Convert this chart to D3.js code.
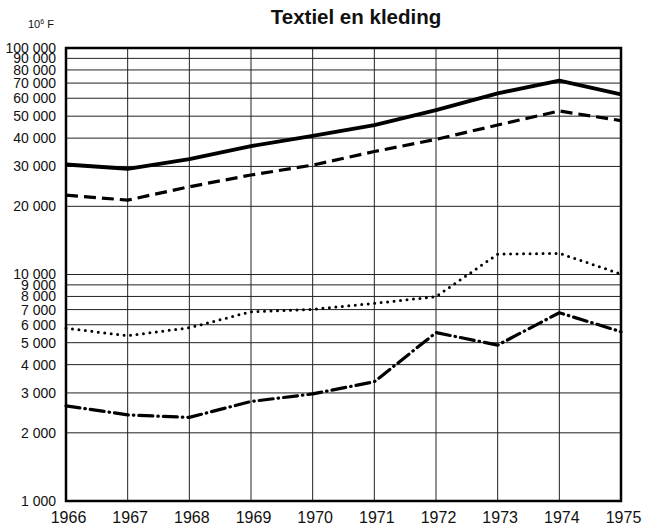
<!DOCTYPE html>
<html>
<head>
<meta charset="utf-8">
<script src="https://d3js.org/d3.v7.min.js"></script>
<style>
  body { margin: 0; background: #fff; }
  text { font-family: "Liberation Sans", Arial, sans-serif; fill: #111; }
</style>
</head>
<body>
<div id="chart"></div>
<script>
// years on the x axis
const years = [1966, 1967, 1968, 1969, 1970, 1971, 1972, 1973, 1974, 1975];

// values in 10^6 F
const solidSeries   = [30600, 29300, 32300, 36900, 40900, 45700, 53200, 63100, 71700, 62400];
const dashedSeries  = [22400, 21300, 24400, 27500, 30400, 34900, 39500, 45700, 52700, 47800];
const dottedSeries  = [5790, 5370, 5820, 6850, 7020, 7460, 7980, 12300, 12400, 10050];
const dashDotSeries = [2630, 2400, 2340, 2750, 2970, 3360, 5540, 4880, 6780, 5590];

const yTicks = [1000, 2000, 3000, 4000, 5000, 6000, 7000, 8000, 9000,
                10000, 20000, 30000, 40000, 50000, 60000, 70000, 80000, 90000, 100000];

const width = 657, height = 529;
const plotLeft = 66, plotRight = 621, plotTop = 48, plotBottom = 501;

const svg = d3.select("#chart").append("svg")
    .attr("width", width)
    .attr("height", height);

const x = d3.scaleLinear().domain([1966, 1975]).range([plotLeft, plotRight]);
const y = d3.scaleLog().domain([1000, 100000]).range([plotBottom, plotTop]);

const fmt = v => d3.format(",")(v).replace(/,/g, " ");

// grid
svg.append("g")
    .selectAll("line")
    .data(yTicks)
    .join("line")
    .attr("x1", plotLeft).attr("x2", plotRight)
    .attr("y1", d => y(d)).attr("y2", d => y(d))
    .attr("stroke", "#222").attr("stroke-width", 1);

svg.append("g")
    .selectAll("line")
    .data(years)
    .join("line")
    .attr("x1", d => x(d)).attr("x2", d => x(d))
    .attr("y1", plotTop).attr("y2", plotBottom)
    .attr("stroke", "#222").attr("stroke-width", 1);

// frame
svg.append("rect")
    .attr("x", plotLeft).attr("y", plotTop)
    .attr("width", plotRight - plotLeft).attr("height", plotBottom - plotTop)
    .attr("fill", "none").attr("stroke", "#000").attr("stroke-width", 2.5);

// axes
const yAxis = svg.append("g")
    .attr("transform", `translate(${plotLeft},0)`)
    .call(d3.axisLeft(y).tickValues(yTicks).tickFormat(fmt).tickSize(0).tickPadding(10));
yAxis.select(".domain").remove();
yAxis.selectAll("text").style("font-size", "14px").attr("fill", "#111");

const xAxis = svg.append("g")
    .attr("transform", `translate(0,${plotBottom})`)
    .call(d3.axisBottom(x).tickValues(years).tickFormat(d3.format("d")).tickSize(0).tickPadding(11));
xAxis.select(".domain").remove();
xAxis.selectAll("text").style("font-size", "16px").attr("fill", "#111").attr("dx", 2);

// series
const line = d3.line()
    .x((d, i) => x(years[i]))
    .y(d => y(d));

const styles = [
  { data: solidSeries,   dash: null,         w: 3.8, cap: "butt" },
  { data: dashedSeries,  dash: "12,6",       w: 3.2, cap: "butt" },
  { data: dottedSeries,  dash: "0,6.5",      w: 3,   cap: "round" },
  { data: dashDotSeries, dash: "14,5,0.5,5", w: 3.2, cap: "round" }
];

svg.append("g")
    .selectAll("path")
    .data(styles)
    .join("path")
    .attr("d", d => line(d.data))
    .attr("fill", "none")
    .attr("stroke", "#000")
    .attr("stroke-width", d => d.w)
    .attr("stroke-linecap", d => d.cap)
    .attr("stroke-linejoin", "round")
    .attr("stroke-dasharray", d => d.dash);

// title and unit
svg.append("text")
    .attr("x", 356).attr("y", 24)
    .attr("text-anchor", "middle")
    .style("font-size", "20.5px").style("font-weight", "bold")
    .text("Textiel en kleding");

const unit = svg.append("text")
    .attr("x", 28).attr("y", 28)
    .style("font-size", "11px");
unit.append("tspan").text("10");
unit.append("tspan").attr("dy", -4).style("font-size", "7px").text("6");
unit.append("tspan").attr("dy", 4).text(" F");
</script>
</body>
</html>
